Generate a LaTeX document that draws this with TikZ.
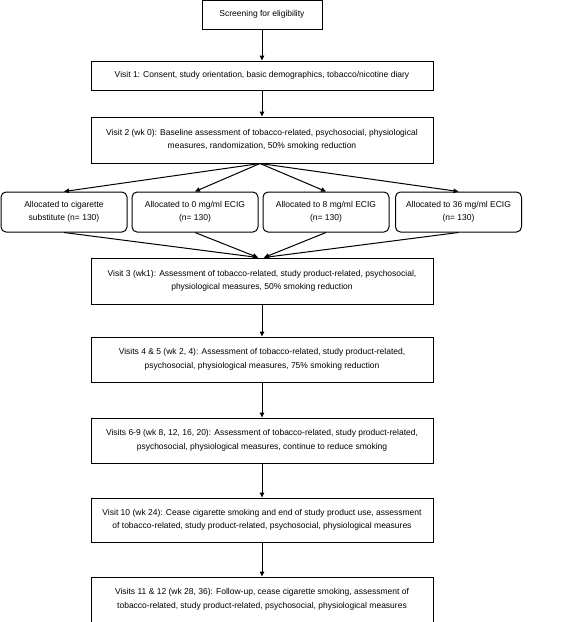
\documentclass[tikz,border=0pt]{standalone}
\usepackage{fontspec}
\setmainfont{Liberation Sans}
\usetikzlibrary{arrows.meta,calc}
\begin{document}
\begin{tikzpicture}[x=1pt,y=-1pt,
  box/.style={draw,line width=1pt,align=center,inner sep=0pt,
    font=\fontsize{8.5}{13.5}\selectfont},
  mainbox/.style={box,minimum width=342pt},
  allocbox/.style={box,rounded corners=5pt,minimum width=126pt,minimum height=40pt},
  conn/.style={line width=1pt,-{Triangle[length=5pt,width=4.5pt]}}]
\useasboundingbox (0,0) rectangle (567,622);
\node[box,minimum width=120pt,minimum height=29pt] (scr) at (262,14.5) {Screening for eligibility};
\node[mainbox,minimum height=29pt] (v1) at (262,75.5) {Visit 1: Consent, study orientation, basic demographics, tobacco/nicotine diary};
\node[mainbox,minimum height=46pt] (v2) at (262,140) {Visit 2 (wk 0): Baseline assessment of tobacco-related, psychosocial, physiological\\measures, randomization, 50\% smoking reduction};
\node[allocbox] (a1) at (64,212) {Allocated to cigarette\\substitute (n= 130)};
\node[allocbox] (a2) at (195,212) {Allocated to 0 mg/ml ECIG\\(n= 130)};
\node[allocbox] (a3) at (326,212) {Allocated to 8 mg/ml ECIG\\(n= 130)};
\node[allocbox] (a4) at (458.5,212) {Allocated to 36 mg/ml ECIG\\(n= 130)};
\node[mainbox,minimum height=46pt] (v3) at (262,281) {Visit 3 (wk1): Assessment of tobacco-related, study product-related, psychosocial,\\physiological measures, 50\% smoking reduction};
\node[mainbox,minimum height=45pt] (v45) at (262,359.5) {Visits 4 \& 5 (wk 2, 4): Assessment of tobacco-related, study product-related,\\psychosocial, physiological measures, 75\% smoking reduction};
\node[mainbox,minimum height=45pt] (v69) at (262,440.5) {Visits 6-9 (wk 8, 12, 16, 20): Assessment of tobacco-related, study product-related,\\psychosocial, physiological measures, continue to reduce smoking};
\node[mainbox,minimum height=44pt] (v10) at (262,520) {Visit 10 (wk 24): Cease cigarette smoking and end of study product use, assessment\\of tobacco-related, study product-related, psychosocial, physiological measures};
\node[mainbox,minimum height=45pt] (v11) at (262,599.5) {Visits 11 \& 12 (wk 28, 36): Follow-up, cease cigarette smoking, assessment of\\tobacco-related, study product-related, psychosocial, physiological measures};
\coordinate (inL) at ($(v3.north)+(-4,0)$);
\coordinate (inR) at ($(v3.north)+(2,0)$);
\coordinate (outc) at ($(v2.south)+(-2,0)$);
\draw[conn] (scr.south) -- (v1.north);
\draw[conn] (v1.south) -- (v2.north);
\foreach \a in {a1,a2,a3,a4} \draw[conn] (outc) -- (\a.north);
\draw[conn] (a1.south) -- (inL);
\draw[conn] (a2.south) -- (inL);
\draw[conn] (a3.south) -- (inR);
\draw[conn] (a4.south) -- (inR);
\draw[conn] (v3.south) -- (v45.north);
\draw[conn] (v45.south) -- (v69.north);
\draw[conn] (v69.south) -- (v10.north);
\draw[conn] (v10.south) -- (v11.north);
\end{tikzpicture}
\end{document}
